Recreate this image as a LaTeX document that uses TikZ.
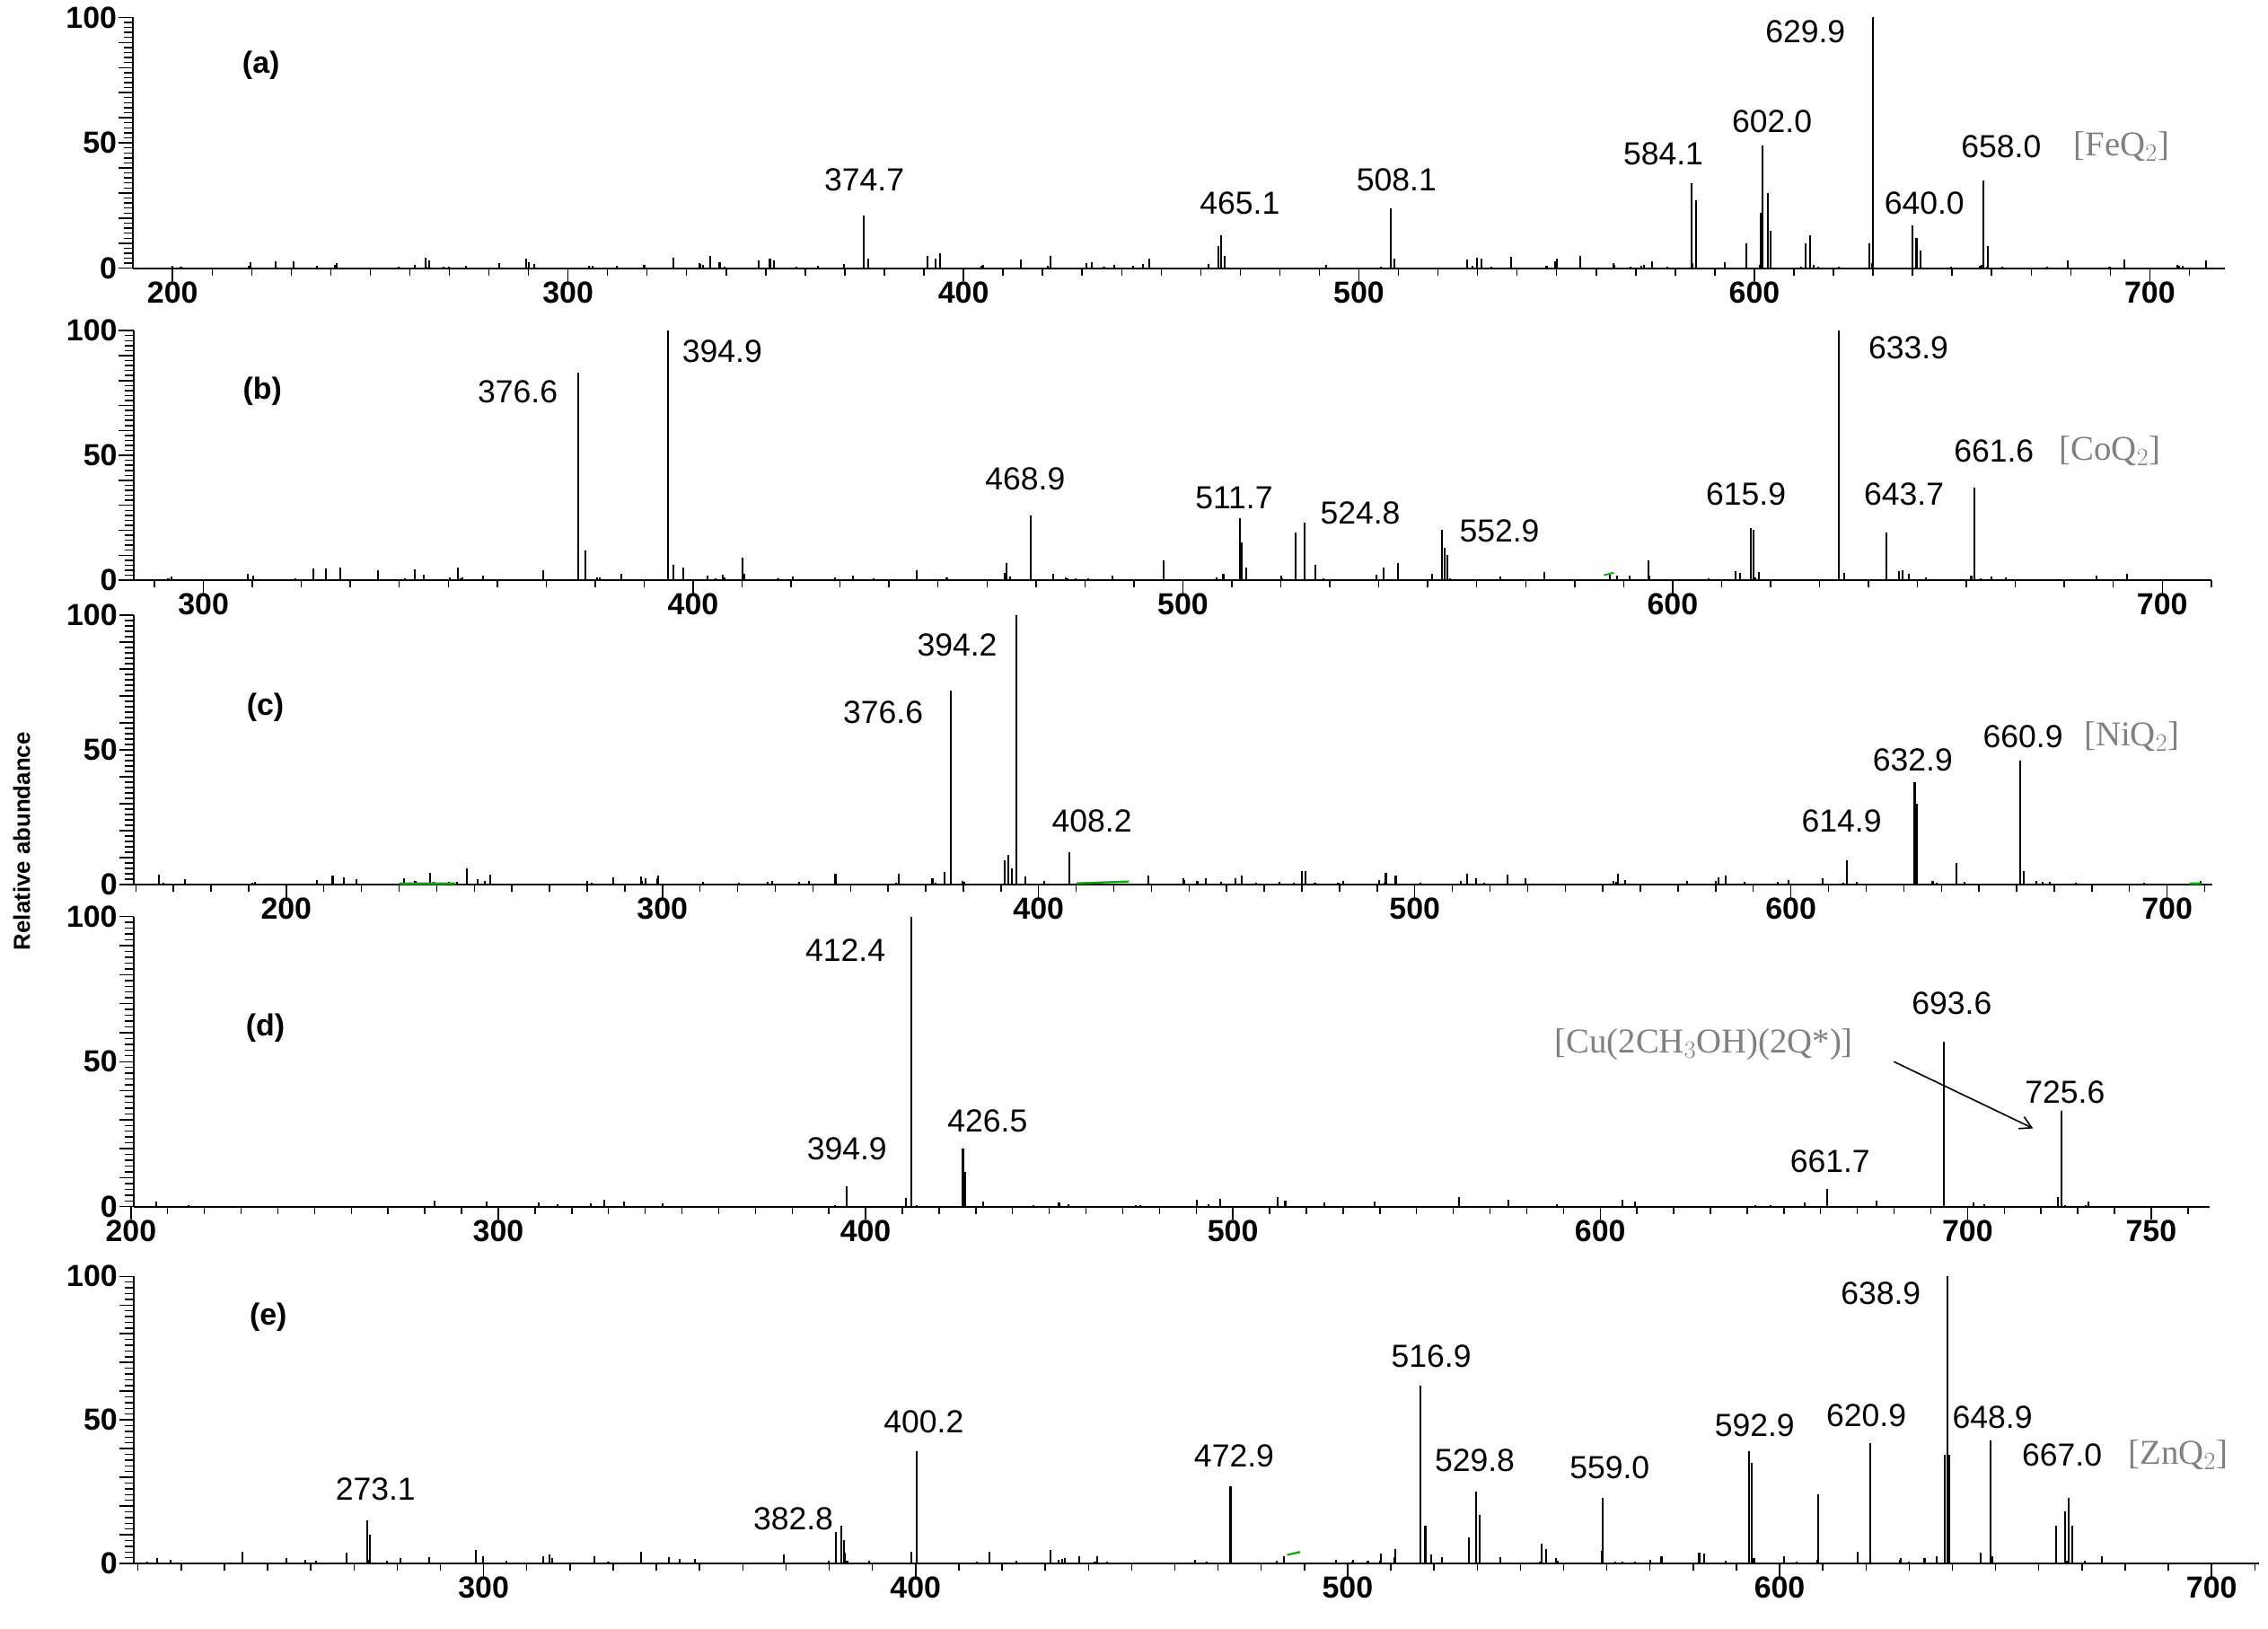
\documentclass[tikz,border=0pt]{standalone}
\usepackage{fontspec}
\setmainfont{Liberation Sans}
\newfontfamily\tms{Liberation Serif}
\usetikzlibrary{arrows.meta}
\newcounter{lc}
\newcommand\lab[3]{\stepcounter{lc}\node[lbl,name=l\thelc] at (#1,1123-#2) {#3};}
\newcommand\glab[3]{\stepcounter{lc}\node[glb,name=g\thelc] at (#1,1123-#2) {#3};}
\newcommand\axes[4]{%
  \draw[ax] (#1,0) -- (#2,0);
  \draw[ax] (#1,0) -- (#1,100);
  \foreach \t in {0,2,...,100} \draw[tk] (#1,\t) -- ++(-6pt,0);
  \foreach \t in {0,10,...,100} \draw[tk] (#1,\t) -- ++(-10pt,0);
  \foreach \t in {0,50,100} \node[tkl,anchor=east] at ([xshift=-10pt]#1,\t) {\t};
  \foreach \t in {#3} \draw[tk] (\t,0) -- ++(0,-5pt);
  \foreach \t in {#4} {\draw[tk] (\t,0) -- ++(0,-9pt); \node[tkl,anchor=north] at ([yshift=-8pt]\t,0) {\t};}
}
\newcommand\noise[3]{\foreach \i in {1,...,#3}{\pgfmathsetmacro\mm{#1+rnd*(#2-#1)}\pgfmathsetmacro\hh{0.4+rnd*rnd*5}\draw[pk](\mm,0)--(\mm,\hh);}}
\tikzset{
 ax/.style={line width=1.3pt},
 tk/.style={line width=0.9pt},
 pk/.style={line width=1.3pt},
 tkl/.style={font=\bfseries\fontsize{21}{21}\selectfont,inner sep=1pt},
 lbl/.style={font=\fontsize{22}{22}\selectfont,inner sep=0pt},
 glb/.style={font=\tms\fontsize{24}{24}\selectfont,text=gray,inner sep=0pt},
 pl/.style={font=\bfseries\fontsize{21}{21}\selectfont,inner sep=0pt},
}
\begin{document}
\begin{tikzpicture}[x=1pt,y=1pt]
\pgfmathsetseed{7}
\fill[white] (0,0) rectangle (1564,1123);
\useasboundingbox (0,0) rectangle (1564,1123);
% (a)
\begin{scope}[shift={(-426.4pt,938pt)},x=2.727pt,y=1.73pt]
\axes{190}{719}{200,210,...,710}{200,300,...,700}
\noise{200}{715}{90}
\foreach \m/\h in {374.7/21,376/4,391/5,393/4,394/6,422/5,447/4,465.1/13,464.5/9,466/5,508.1/24,509/4,531/4,550/4,556/5,584.1/34,585.2/27,598/10,602/49,601.5/22,603.4/30,604/15,613/10,614/13,629.9/100,629/10,640/17,641/12,642/7,658/35,659/9,336/5,352/3}
  \draw[pk] (\m,0)--(\m,\h);
\end{scope}
\node[pl,name=pa] at (180,1123-45) {(a)};
\lab{596}{124}{374.7}\lab{855}{140}{465.1}\lab{963}{124}{508.1}\lab{1147}{106}{584.1}
\lab{1222}{84}{602.0}\lab{1245}{22}{629.9}\lab{1327}{140}{640.0}\lab{1380}{101}{658.0}
\glab{1463}{101}{[FeQ$_2$]}
% (b)
\begin{scope}[shift={(-872.8pt,723pt)},x=3.377pt,y=1.72pt]
\axes{285.7}{710}{290,300,...,710}{300,400,...,700}
\noise{290}{705}{80}
\foreach \m/\h in {376.6/83,378/12,394.9/100,396/6,398/5,410/9,464/7,468.9/26,496/8,511.7/25,512/15,513/5,523/19,524.8/23,527/6,541/5,544/7,552.9/20,553.5/13,554/10,595/8,615.9/21,616.5/20,633.9/100,635/3,643.7/19,647/4,661.6/37,328/5,352/5}
  \draw[pk] (\m,0)--(\m,\h);
\draw[green!70!black,line width=1.2pt] (586,2)--(588,3);
\end{scope}
\node[pl,name=pb] at (181,1123-270) {(b)};
\lab{357}{270}{376.6}\lab{498}{242}{394.9}\lab{707}{330}{468.9}\lab{851}{343}{511.7}
\lab{938}{354}{524.8}\lab{1034}{366}{552.9}\lab{1204}{341}{615.9}\lab{1316}{240}{633.9}
\lab{1313}{341}{643.7}\lab{1375}{311}{661.6}\glab{1455}{311}{[CoQ$_2$]}
% (c)
\begin{scope}[shift={(-321.4pt,513pt)},x=2.594pt,y=1.86pt]
\axes{159.4}{712}{160,170,...,710}{200,300,...,700}
\noise{162}{710}{110}
\foreach \m/\h in {376.6/72,391/9,392/11,393/6,394.2/100,408.2/12,248/6,470/5,471/5,514/4,554/4,614.9/9,632.9/38,633.5/30,644/8,660.9/46,662/5,346/4}
  \draw[pk] (\m,0)--(\m,\h);
\draw[green!70!black,line width=1.4pt] (230,0.5)--(245,0.5) (410,0.5)--(424,1.2) (706,0.5)--(709,0.5);
\end{scope}
\node[pl,name=pc] at (183,1123-488) {(c)};
\lab{609}{491}{376.6}\lab{660}{445}{394.2}\lab{753}{566}{408.2}\lab{1270}{566}{614.9}
\lab{1319}{524}{632.9}\lab{1395}{508}{660.9}\glab{1470}{508}{[NiQ$_2$]}
\node[font=\bfseries\fontsize{16}{16}\selectfont,rotate=90,name=yl] at (15,1123-580) {Relative abundance};
% (d)
\begin{scope}[shift={(-416.3pt,291pt)},x=2.533pt,y=2.0pt]
\axes{200.7}{766}{210,220,...,760}{200,300,...,700,750}
\noise{205}{760}{40}
\foreach \m/\h in {394.9/7,412.4/100,411/3,426.5/20,427/12,661.7/6,693.6/57,725.6/33}
  \draw[pk] (\m,0)--(\m,\h);
\end{scope}
\node[pl,name=pd] at (183,1123-709) {(d)};
\lab{584}{792}{394.9}\lab{583}{655}{412.4}\lab{681}{773}{426.5}\lab{1262}{801}{661.7}
\lab{1346}{692}{693.6}\lab{1424}{753}{725.6}
\glab{1175}{720}{[Cu(2CH$_3$OH)(2Q*)]}
\coordinate (cust) at (1306,1123-732);
\coordinate (cuend) at (1402,1123-778);
\draw[line width=1pt,-{Straight Barb[length=8pt,width=9pt]}] (cust) -- (cuend);
% (e)
\begin{scope}[shift={(-560.2pt,45pt)},x=2.979pt,y=1.98pt]
\axes{219}{711}{220,230,...,710}{300,400,...,700}
\noise{222}{708}{90}
\foreach \m/\h in {273.1/15,273.6/10,381.5/11,382.8/13,383.5/8,400.2/39,399/4,472.9/27,516.9/62,518/13,528/9,529.8/25,530.5/17,545/7,546/5,559/23,592.9/39,593.5/35,609/24,620.9/42,638.9/100,638.2/38,639.3/38,648.9/43,664/13,666/18,667/23,667.7/13,417/4}
  \draw[pk] (\m,0)--(\m,\h);
\draw[green!70!black,line width=1.4pt] (486,3)--(489,4);
\end{scope}
\node[pl,name=pe] at (185,1123-908) {(e)};
\lab{259}{1027}{273.1}\lab{547}{1047}{382.8}\lab{637}{980}{400.2}\lab{851}{1004}{472.9}
\lab{987}{935}{516.9}\lab{1017}{1007}{529.8}\lab{1110}{1012}{559.0}\lab{1210}{983}{592.9}
\lab{1287}{976}{620.9}\lab{1297}{892}{638.9}\lab{1374}{977}{648.9}\lab{1422}{1003}{667.0}
\glab{1502}{1003}{[ZnQ$_2$]}
\end{tikzpicture}
\end{document}
